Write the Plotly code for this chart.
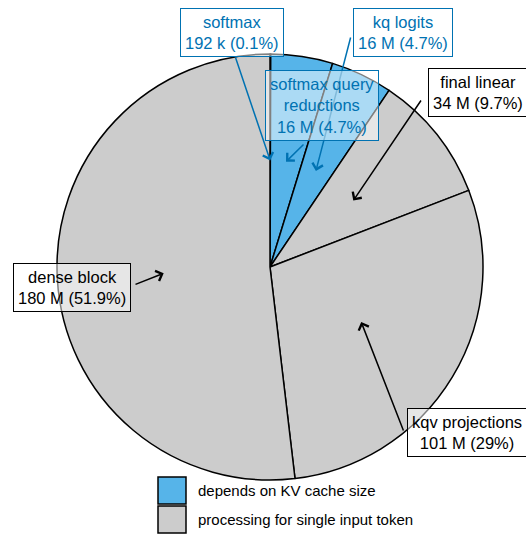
import math
import plotly.graph_objects as go

W, H = 526, 535

# slices, clockwise from 12 o'clock (values in millions)
slice_names = ["softmax", "softmax query<br>reductions", "kq logits",
               "final linear", "kqv projections", "dense block"]
slice_values = [0.192, 16.3, 16.3, 33.7, 100.7, 180.2]
slice_group = ["kv", "kv", "kv", "token", "token", "token"]

group_keys = ["kv", "token"]
group_names = ["depends on KV cache size", "processing for single input token"]
group_fill = {"kv": "#56B4E9", "token": "#CCCCCC"}
group_ink = {"kv": "#0072B2", "token": "black"}

# label box centres and arrow tails, pixels from top-left
box_xy = [(232, 32), (322, 105), (403, 32), (478, 92), (467, 432), (72, 287)]
tail_xy = [(235, 56), (305, 143), (351, 36), (422, 99), (404, 432), (134, 285)]

cx, cy, r = 270, 267, 213
FONT = "Liberation Sans, Arial, sans-serif"


def fmt_size(m):
    return f"{m * 1000:.0f} k" if m < 1 else f"{m:.0f} M"


def fmt_pct(p):
    return f"{round(p, 1):g}%"


total = sum(slice_values)

fig = go.Figure(go.Pie(
    labels=[n.replace("<br>", " ") for n in slice_names],
    values=slice_values,
    sort=False,
    direction="clockwise",
    rotation=0,
    textinfo="none",
    hoverinfo="label+value+percent",
    marker=dict(colors=[group_fill[g] for g in slice_group],
                line=dict(color="black", width=1.5)),
    domain=dict(x=[(cx - r) / W, (cx + r) / W], y=[1 - (cy + r) / H, 1 - (cy - r) / H]),
))

annotations = []
cum = 0
for name, v, g, (bx, by), (tx, ty) in zip(slice_names, slice_values, slice_group, box_xy, tail_xy):
    mid = (cum + v / 2) / total * 2 * math.pi
    cum += v
    hx = cx + 0.5 * r * math.sin(mid)
    hy = cy - 0.5 * r * math.cos(mid)
    annotations.append(dict(
        x=hx / W, y=1 - hy / H, xref="paper", yref="paper",
        text="", showarrow=True, ax=tx - hx, ay=ty - hy,
        arrowhead=4, arrowsize=1.4, arrowwidth=1.5, arrowcolor=group_ink[g],
        standoff=0, startstandoff=0,
    ))

for name, v, g, (bx, by) in zip(slice_names, slice_values, slice_group, box_xy):
    annotations.append(dict(
        x=bx / W, y=1 - by / H, xref="paper", yref="paper",
        xanchor="center", yanchor="middle", showarrow=False,
        text=f"{name}<br>{fmt_size(v)} ({fmt_pct(v / total * 100)})",
        font=dict(family=FONT, size=16.5, color=group_ink[g]),
        bgcolor="rgba(255,255,255,0.5)", bordercolor=group_ink[g],
        borderwidth=1, borderpad=4,
    ))

# legend
shapes = []
key_top = [477, 506]
for k, name, top in zip(group_keys, group_names, key_top):
    shapes.append(dict(type="rect", xref="paper", yref="paper",
                       x0=158 / W, x1=186 / W, y0=1 - (top + 27) / H, y1=1 - top / H,
                       fillcolor=group_fill[k], line=dict(color="black", width=1.5)))
    annotations.append(dict(x=196 / W, y=1 - (top + 13.5) / H, xref="paper", yref="paper",
                            xanchor="left", yanchor="middle", showarrow=False,
                            text=name, font=dict(family=FONT, size=15, color="black")))

fig.update_layout(
    width=W, height=H,
    margin=dict(l=0, r=0, t=0, b=0),
    paper_bgcolor="white",
    showlegend=False,
    annotations=annotations,
    shapes=shapes,
)
fig.write_html("out.html", config={"displayModeBar": False},
               post_script="document.body.style.margin='0';document.body.style.overflow='hidden';")
